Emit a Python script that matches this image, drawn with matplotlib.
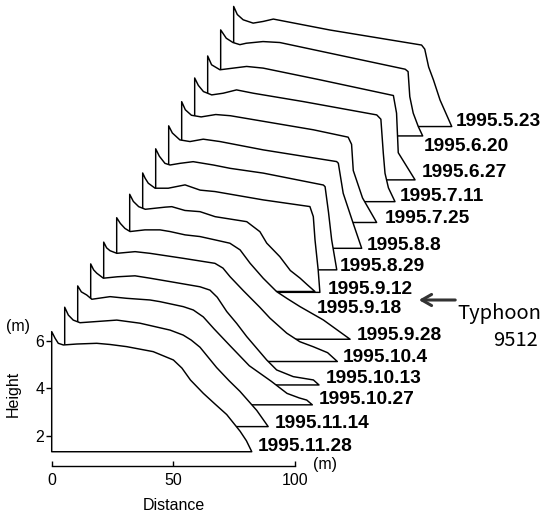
import matplotlib
matplotlib.use('Agg')
import matplotlib.pyplot as plt

# survey dates, back (oldest) to front (newest)
dates = ['1995.5.23', '1995.6.20', '1995.6.27', '1995.7.11', '1995.7.25',
         '1995.8.8', '1995.8.29', '1995.9.12', '1995.9.18', '1995.9.28',
         '1995.10.4', '1995.10.13', '1995.10.27', '1995.11.14', '1995.11.28']

d_0523 = [0, 1.5, 3.9, 8.0, 12.1, 16.3, 39.6, 77.2, 78.5, 80.1, 82.1, 84.8, 89.6]
h_0523 = [6.39, 6.05, 5.83, 5.69, 5.76, 5.86, 5.4, 4.77, 4.6, 3.85, 3.3, 2.46, 1.35]
d_0620 = [0, 2.3, 5.05, 7.9, 10.5, 17.4, 24.3, 75.8, 77.0, 77.7, 79.1, 81.2, 83.0]
h_0620 = [6.38, 6.03, 5.85, 5.76, 5.82, 5.89, 5.85, 4.73, 4.63, 3.58, 2.89, 2.32, 1.93]
d_0627 = [0, 1.6, 5.05, 10.5, 16, 22.8, 46.1, 76.3, 77.6, 78.3, 85.2]
h_0627 = [6.26, 5.89, 5.68, 5.75, 5.82, 5.75, 5.26, 4.6, 3.86, 2.2, 1.06]
d_0711 = [0, 1.5, 3.6, 7.0, 11.7, 17.2, 24.1, 44.6, 74.8, 76.5, 77.5, 78.2, 79.6, 82.3]
h_0711 = [6.31, 6.0, 5.74, 5.60, 5.67, 5.81, 5.67, 5.32, 4.76, 4.58, 3.15, 2.31, 1.7, 1.12]
d_0725 = [0, 1.5, 4, 8, 14, 20, 54.1, 68.4, 69.8, 70.5, 74.3, 80.1]
h_0725 = [6.29, 5.95, 5.72, 5.65, 5.75, 5.7, 5.11, 4.8, 4.5, 3.4, 2.25, 1.22]
d_0808 = [0, 1.5, 4.6, 8.75, 14.2, 21.1, 38.9, 69.0, 69.7, 71.7, 75.8, 79.3]
h_0808 = [6.25, 5.95, 5.66, 5.59, 5.69, 5.59, 5.24, 4.75, 4.68, 3.42, 2.16, 1.11]
d_0829 = [0, 1.5, 3.8, 5.9, 10.0, 15.4, 23.7, 30.6, 44.2, 68.9, 69.6, 71, 72.3, 74.4]
h_0829 = [6.26, 5.95, 5.65, 5.58, 5.65, 5.72, 5.58, 5.44, 5.24, 4.74, 4.67, 3.6, 2.44, 1.18]
d_0912 = [0, 1.0, 2.3, 5.1, 10.5, 17.4, 23.6, 29.7, 49.5, 68.7, 70.1, 70.8, 72.1, 72.8]
h_0912 = [6.22, 6.0, 5.79, 5.58, 5.58, 5.72, 5.50, 5.44, 5.09, 4.81, 4.39, 3.41, 2.15, 1.21]
d_0918 = [0, 1.5, 3.7, 6.4, 14.6, 17.3, 22.7, 28.9, 35.1, 48.1, 50.8, 53.5, 56.3, 61.7, 66, 70.0, 73, 76.1]
h_0918 = [6.3, 6.0, 5.78, 5.67, 5.76, 5.78, 5.62, 5.57, 5.36, 5.15, 4.94, 4.73, 4.25, 3.68, 3.1, 2.78, 2.5, 2.22]
d_0928 = [0, 1.5, 3.4, 5.5, 11.6, 17.8, 21.9, 28.1, 34.2, 40.4, 46.5, 50.7, 54.8, 60.2, 65.7, 70, 75.3, 84.9, 95.9]
h_0928 = [6.29, 6.05, 5.84, 5.71, 5.78, 5.78, 5.71, 5.57, 5.50, 5.36, 5.22, 4.94, 4.38, 3.75, 3.19, 2.9, 2.56, 2.0, 1.19]
d_1004 = [0, 1.2, 2.6, 5.4, 12.9, 19.0, 32.7, 45.7, 49, 51.9, 57.4, 64.2, 68.3, 75.2, 80.6, 86.1, 92, 96.0]
h_1004 = [6.24, 6.0, 5.88, 5.77, 5.84, 5.77, 5.56, 5.35, 5.15, 4.79, 4.2, 3.5, 3.05, 2.42, 2.06, 1.85, 1.6, 1.23]
d_1013 = [0, 1.2, 2.5, 5.2, 11, 18.2, 24.4, 33, 44.9, 49, 52, 55.9, 60, 64.1, 72.3, 76.4, 83.2, 91.5, 93.8]
h_1013 = [6.3, 6.05, 5.91, 5.70, 5.76, 5.80, 5.70, 5.55, 5.34, 5.2, 4.9, 4.3, 3.8, 3.25, 2.27, 1.85, 1.57, 1.43, 1.22]
d_1027 = [0, 1.5, 3.7, 5.8, 13.3, 20.1, 29.7, 33.8, 43.4, 47.5, 51.6, 56, 62.5, 70.5, 79.5, 86, 91, 94.1, 96.4]
h_1027 = [6.35, 6.1, 5.97, 5.79, 5.9, 5.83, 5.76, 5.69, 5.48, 5.34, 5.05, 4.55, 3.85, 3.0, 2.35, 1.84, 1.65, 1.56, 1.36]
d_1114 = [0, 1.5, 3.5, 6.3, 11.8, 21.4, 30.9, 43.3, 48.7, 52, 55.6, 62.4, 67.5, 72.0, 78.9, 83.6]
h_1114 = [6.43, 6.1, 5.89, 5.78, 5.82, 5.89, 5.76, 5.47, 5.26, 5.05, 4.75, 3.9, 3.35, 2.9, 2.1, 1.42]
d_1128 = [0, 1.4, 2.7, 4.8, 10.3, 18.5, 24, 30.8, 41.7, 50.0, 53.5, 57, 62.3, 67, 71.9, 77.4, 80, 82.2]
h_1128 = [6.38, 6.1, 5.89, 5.82, 5.86, 5.89, 5.84, 5.75, 5.54, 5.19, 4.85, 4.35, 3.79, 3.35, 2.9, 2.2, 1.8, 1.34]

dists = [d_0523, d_0620, d_0627, d_0711, d_0725, d_0808, d_0829, d_0912,
         d_0918, d_0928, d_1004, d_1013, d_1027, d_1114, d_1128]
heights = [h_0523, h_0620, h_0627, h_0711, h_0725, h_0808, h_0829, h_0912,
           h_0918, h_0928, h_1004, h_1013, h_1027, h_1114, h_1128]

# stacking offset between successive profiles (m)
dx, dy = 5.34, 0.974

# label offsets from the toe, in pixels (right, up)
lab_off = [(4, 5), (1, -11), (7, 7), (5, 5), (8, 4), (5, 3), (3, 3), (8, 3),
           (2, -17), (7, 4), (5, 4), (7, 6), (6, 5), (7, 3), (6, 5)]

W, H = 542, 516
fig = plt.figure(figsize=(W / 100, H / 100), dpi=100)
ax = fig.add_axes([0, 0, 1, 1])
# pixel <-> data mapping of the original figure
x0px, sx = 51.7, 2.434
y2px, sy = 436.0, 23.83
ax.set_xlim(-x0px / sx, (W - x0px) / sx)
ax.set_ylim(2 - (H - y2px) / sy, 2 + y2px / sy)

n = len(dates)
for j in range(n):
    k = n - 1 - j  # offset index, 0 = front profile
    d, h = dists[j], heights[j]
    base = h[-1]
    xs = [0] + d + [0]
    ys = [base] + h + [base]
    xs = [v + k * dx for v in xs]
    ys = [v + k * dy for v in ys]
    ax.fill(xs, ys, facecolor='white', edgecolor='black', lw=1.05,
            joinstyle='round', zorder=2 + j * 0.05)
    ox, oy = lab_off[j]
    ax.annotate(dates[j], xy=(d[-1] + k * dx, base + k * dy),
                xytext=(ox * 0.72, oy * 0.72), textcoords='offset points',
                ha='left', va='center', fontsize=13.8, fontweight='bold',
                family='Liberation Sans', zorder=5)

for s in ['top', 'right']:
    ax.spines[s].set_visible(False)
ax.spines['left'].set_position(('data', 0))
ax.spines['left'].set_visible(False)
ax.spines['bottom'].set_position(('data', 2 - (466 - y2px) / sy))
ax.spines['bottom'].set_bounds(0, 100)
ax.spines['bottom'].set_linewidth(1.0)
ax.set_xticks([0, 50, 100])
ax.set_yticks([2, 4, 6])
ax.tick_params(axis='x', direction='in', length=3.5, width=1, pad=5, labelsize=11.5)
ax.tick_params(axis='y', direction='out', length=4.2, width=1, pad=1, labelsize=11.5)
for t in ax.get_xticklabels() + ax.get_yticklabels():
    t.set_family('Liberation Sans')

def px(x, y):
    return x / W, 1 - y / H

fig.text(*px(18, 326), '(m)', ha='center', va='center', fontsize=11.5, family='Liberation Sans')
fig.text(*px(13, 394), 'Height', ha='center', va='center', rotation=90, fontsize=11.5, family='Liberation Sans')
fig.text(*px(325, 465), '(m)', ha='center', va='center', fontsize=11.5, family='Liberation Sans')
fig.text(*px(174, 505), 'Distance', ha='center', va='center', fontsize=11.5, family='Liberation Sans')

# typhoon marker
ax.annotate('', xy=px(416, 300), xytext=px(458, 300), xycoords='figure fraction',
            textcoords='figure fraction',
            arrowprops=dict(arrowstyle='->,head_length=0.7,head_width=0.4', lw=2.2, color='#333333'))
fig.text(*px(499, 313), 'Typhoon', ha='center', va='center', fontsize=14.5, family='Noto Sans CJK JP')
fig.text(*px(538, 340), '9512', ha='right', va='center', fontsize=14.5, family='Noto Sans CJK JP')

fig.savefig('out.png', dpi=100)
